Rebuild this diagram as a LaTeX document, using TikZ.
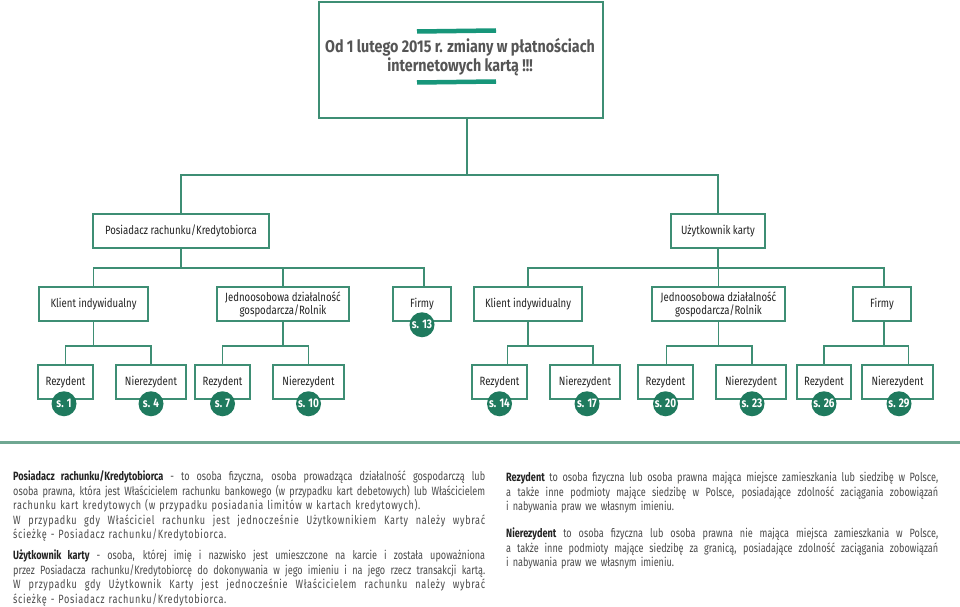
\documentclass[tikz,border=0pt]{standalone}
\usepackage{fontspec}
\setmainfont[FakeStretch=0.8]{Fira Sans}
\newfontfamily\bodyf[FakeStretch=0.76,BoldFeatures={FakeStretch=0.76}]{Fira Sans}
\newfontfamily\spaced[FakeStretch=0.76,LetterSpace=5.5]{Fira Sans}
\newfontfamily\titlef[FakeStretch=0.84]{Fira Sans}
\definecolor{bord}{HTML}{3E8E74}
\definecolor{dot}{HTML}{1F7A5E}
\definecolor{barc}{HTML}{17967A}
\definecolor{sepc}{HTML}{6FA792}
\definecolor{tx}{HTML}{222222}
\definecolor{bodyc}{HTML}{4A4A4A}
\definecolor{titlec}{HTML}{555555}
\newcommand\jl[1]{\leavevmode\hbox to \hsize{\spaceskip=0pt\xspaceskip=0pt #1}\\}
\newcommand\sjl[1]{\leavevmode\hbox to \hsize{\spaceskip=0pt\xspaceskip=0pt\spaced #1}\\}
\begin{document}
\begin{tikzpicture}[x=1pt,y=-1pt,
  box/.style={draw=bord, line width=1.5pt, fill=white, inner sep=0pt, minimum height=34pt,
    align=center, font=\fontsize{12}{13}\selectfont, text=tx},
  pg/.style={circle, fill=dot, minimum size=25pt, inner sep=0pt, text=white,
    font=\bfseries\fontsize{12.5}{12.5}\selectfont},
  conn/.style={draw=bord, line width=1.5pt},
  para/.style={anchor=north west, inner sep=0pt, align=left, text=bodyc,
    font=\bodyf\fontsize{12}{14.5}\selectfont}]
\useasboundingbox[fill=white] (0,0) rectangle (960,607);

% buses
\coordinate (b0) at (0,175);
\coordinate (b1) at (0,268);
\coordinate (b2) at (0,346);

% top box
\node[draw=bord, line width=1.5pt, minimum width=284pt, minimum height=116pt, inner sep=0pt] (top) at (461,60) {};
\node[font=\titlef\bfseries\fontsize{17}{19}\selectfont, text=titlec, align=center] (ttl) at (460,57.5)
  {Od 1 lutego 2015 r. zmiany w płatnościach\\internetowych kartą !!!};
\draw[barc, line width=4.5pt] (417,31.5) -- (496,30.5);
\draw[barc, line width=4.5pt] (417,82.5) -- (496,81.5);

% level 1
\node[box, minimum width=176pt] (post) at (181,231) {Posiadacz rachunku/Kredytobiorca};
\node[box, minimum width=94pt] (uzyt) at (718,231) {Użytkownik karty};

% level 2
\node[box, minimum width=109pt] (klL) at (93.5,304) {Klient indywidualny};
\node[box, minimum width=132pt] (jdL) at (283,304) {Jednoosobowa działalność\\gospodarcza/Rolnik};
\node[box, minimum width=58pt] (fiL) at (422,304) {Firmy};
\node[box, minimum width=108pt] (klR) at (528,304) {Klient indywidualny};
\node[box, minimum width=133pt] (jdR) at (718.5,304) {Jednoosobowa działalność\\gospodarcza/Rolnik};
\node[box, minimum width=58pt] (fiR) at (882,304) {Firmy};

% level 3
\node[box, minimum width=55pt] (r1) at (65.5,382) {Rezydent};
\node[box, minimum width=70pt] (n1) at (151,382) {Nierezydent};
\node[box, minimum width=55pt] (r2) at (222.5,382) {Rezydent};
\node[box, minimum width=71pt] (n2) at (308.5,382) {Nierezydent};
\node[box, minimum width=55pt] (r3) at (499.5,382) {Rezydent};
\node[box, minimum width=70pt] (n3) at (585,382) {Nierezydent};
\node[box, minimum width=55pt] (r4) at (665.5,382) {Rezydent};
\node[box, minimum width=70pt] (n4) at (751,382) {Nierezydent};
\node[box, minimum width=54pt] (r5) at (824,382) {Rezydent};
\node[box, minimum width=71pt] (n5) at (897.5,382) {Nierezydent};

% connectors
\draw[conn] ([xshift=6pt]top.south) -- ([xshift=6pt]top.south |- b0);
\draw[conn] (post.north) -- (post.north |- b0) -- (uzyt.north |- b0) -- (uzyt.north);
\draw[conn] (post.south) -- (post.south |- b1);
\draw[conn] (klL.north) -- (klL.north |- b1) -- ([xshift=2pt]fiL.north |- b1) -- ([xshift=2pt]fiL.north);
\draw[conn] (jdL.north) -- (jdL.north |- b1);
\draw[conn] (uzyt.south) -- (uzyt.south |- b1);
\draw[conn] (klR.north) -- (klR.north |- b1) -- ([xshift=2pt]fiR.north |- b1) -- ([xshift=2pt]fiR.north);
\draw[conn] (jdR.north) -- (jdR.north |- b1);

\draw[conn] (klL.south) -- (klL.south |- b2);
\draw[conn] (r1.north) -- (r1.north |- b2) -- (n1.north |- b2) -- (n1.north);
\draw[conn] (jdL.south) -- (jdL.south |- b2);
\draw[conn] (r2.north) -- (r2.north |- b2) -- (n2.north |- b2) -- (n2.north);
\draw[conn] (klR.south) -- (klR.south |- b2);
\draw[conn] ([xshift=8pt]r3.north) -- ([xshift=8pt]r3.north |- b2) -- ([xshift=8pt]n3.north |- b2) -- ([xshift=8pt]n3.north);
\draw[conn] (jdR.south) -- (jdR.south |- b2);
\draw[conn] ([xshift=1pt]r4.north) -- ([xshift=1pt]r4.north |- b2) -- ([xshift=1pt]n4.north |- b2) -- ([xshift=1pt]n4.north);
\draw[conn] ([xshift=2pt]fiR.south) -- ([xshift=2pt]fiR.south |- b2);
\draw[conn] (r5.north) -- (r5.north |- b2) -- ([xshift=11pt]n5.north |- b2) -- ([xshift=11pt]n5.north);

% page circles
\node[pg] (p13) at ([yshift=-3pt]fiL.south) {s. 13};
\node[pg] (p1) at ([xshift=-1.5pt,yshift=-4pt]r1.south) {s. 1};
\node[pg] (p4) at ([yshift=-4pt]n1.south) {s. 4};
\node[pg] (p7) at ([yshift=-4pt]r2.south) {s. 7};
\node[pg] (p10) at ([yshift=-4pt]n2.south) {s. 10};
\node[pg] (p14) at ([yshift=-4pt]r3.south) {s. 14};
\node[pg] (p17) at ([xshift=2pt,yshift=-4pt]n3.south) {s. 17};
\node[pg] (p20) at ([yshift=-4pt]r4.south) {s. 20};
\node[pg] (p23) at ([xshift=1pt,yshift=-4pt]n4.south) {s. 23};
\node[pg] (p26) at ([yshift=-4pt]r5.south) {s. 26};
\node[pg] (p29) at ([xshift=1.5pt,yshift=-4pt]n5.south) {s. 29};

% separator
\draw[sepc, line width=3pt] (0,442) -- (960,442);

% descriptions
\node[para, text width=472pt] (d1) at (13,471) {%
\jl{\textbf{\color{tx}Posiadacz rachunku/Kredytobiorca} - to osoba fizyczna, osoba prowadząca działalność gospodarczą lub}
\jl{osoba prawna, która jest Właścicielem rachunku bankowego (w przypadku kart debetowych) lub Właścicielem}
{\spaced rachunku kart kredytowych (w przypadku posiadania limitów w kartach kredytowych).}\\
\sjl{W przypadku gdy Właściciel rachunku jest jednocześnie Użytkownikiem Karty należy wybrać}
{\spaced ścieżkę - Posiadacz rachunku/Kredytobiorca.}};
\node[para, text width=472pt] (d2) at (13,550) {%
\jl{\textbf{\color{tx}Użytkownik karty} - osoba, której imię i nazwisko jest umieszczone na karcie i została upoważniona}
\jl{przez Posiadacza rachunku/Kredytobiorcę do dokonywania w jego imieniu i na jego rzecz transakcji kartą.}
\sjl{W przypadku gdy Użytkownik Karty jest jednocześnie Właścicielem rachunku należy wybrać}
{\spaced ścieżkę - Posiadacz rachunku/Kredytobiorca.}};
\node[para, text width=432pt] (d3) at (506,472) {%
\jl{\textbf{\color{tx}Rezydent} to osoba fizyczna lub osoba prawna mająca miejsce zamieszkania lub siedzibę w Polsce,}
\jl{a także inne podmioty mające siedzibę w Polsce, posiadające zdolność zaciągania zobowiązań}
i nabywania praw we własnym imieniu.};
\node[para, text width=432pt] (d4) at (506,528) {%
\jl{\textbf{\color{tx}Nierezydent} to osoba fizyczna lub osoba prawna nie mająca miejsca zamieszkania w Polsce,}
\jl{a także inne podmioty mające siedzibę za granicą, posiadające zdolność zaciągania zobowiązań}
i nabywania praw we własnym imieniu.};
\end{tikzpicture}
\end{document}
